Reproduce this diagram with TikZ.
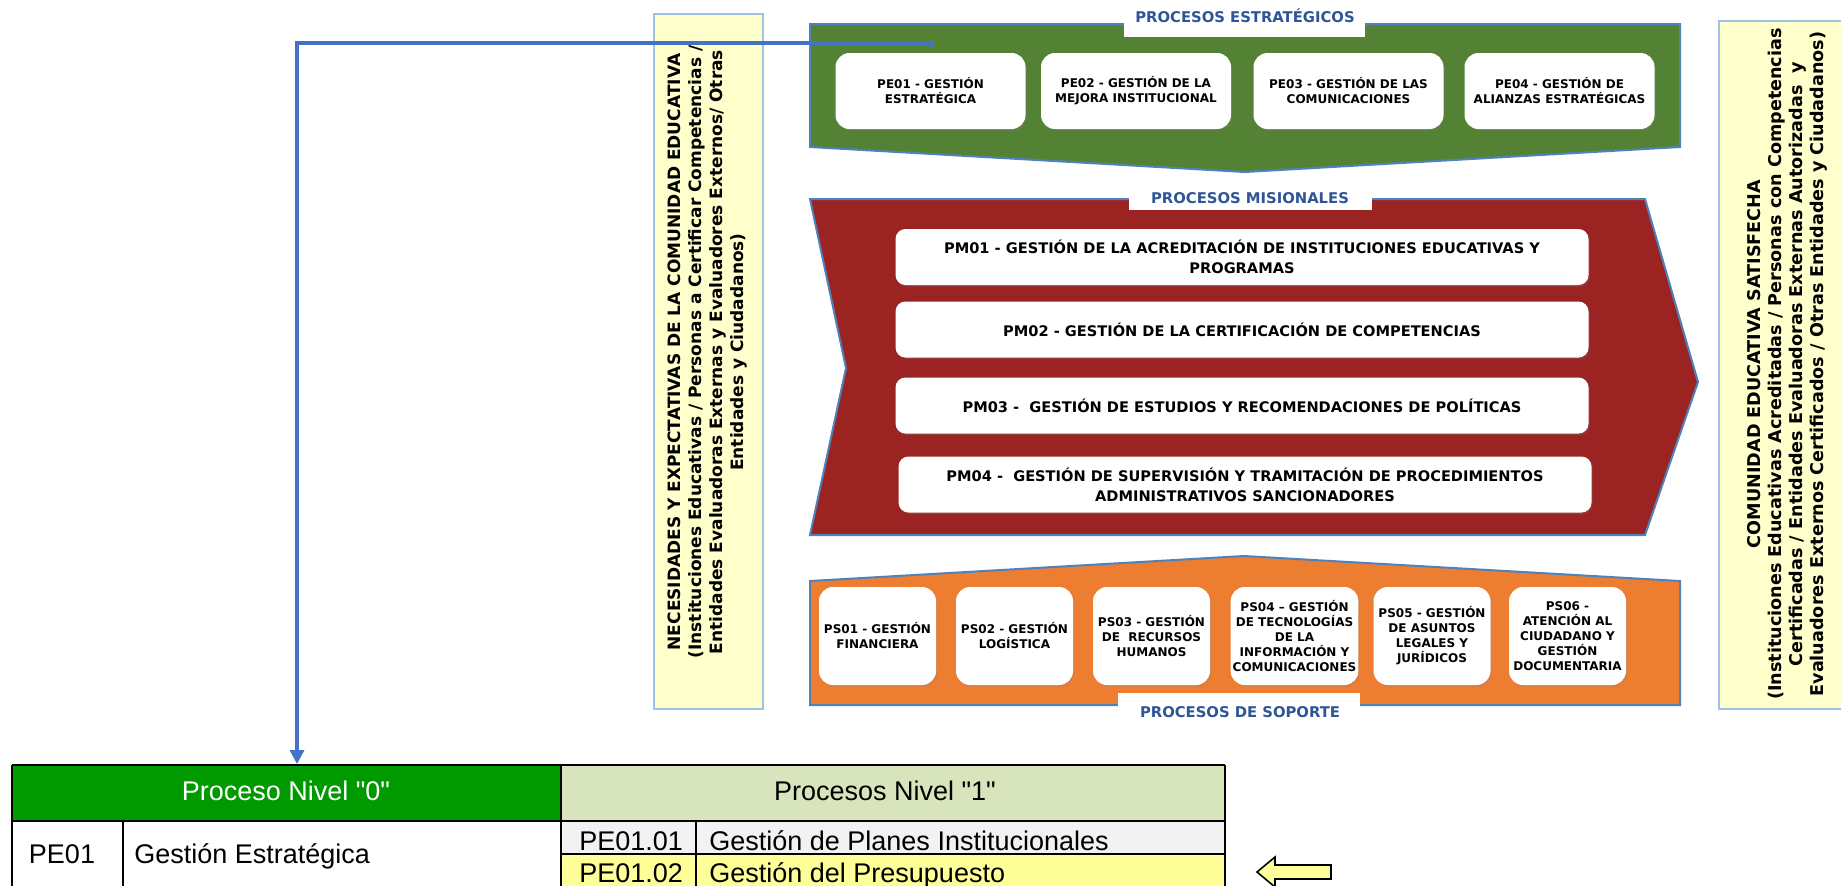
\documentclass[tikz,border=0pt]{standalone}
\usepackage{fontspec}
\setmainfont{DejaVu Sans}
\newfontfamily\tablefont{Liberation Sans}
\usetikzlibrary{arrows.meta,shadows}

\definecolor{estgreen}{RGB}{84,130,53}
\definecolor{misred}{RGB}{155,36,35}
\definecolor{suporange}{RGB}{237,125,49}
\definecolor{edgeblue}{RGB}{79,129,189}
\definecolor{titleblue}{RGB}{47,85,151}
\definecolor{notepale}{RGB}{255,255,204}
\definecolor{noteedge}{RGB}{157,195,230}
\definecolor{hdrgreen}{RGB}{0,153,0}
\definecolor{hdrpale}{RGB}{216,228,188}
\definecolor{rowgray}{RGB}{242,242,242}
\definecolor{rowyellow}{RGB}{255,255,153}
\definecolor{linkblue}{RGB}{68,114,196}

\begin{document}
\begin{tikzpicture}[x=0.5pt,y=0.5pt,yscale=-1,
    band/.style={draw=edgeblue,line width=1pt},
    procbox/.style={fill=white,rounded corners=7pt,align=center,inner sep=1pt,
      font=\bfseries\fontsize{6}{7.5}\selectfont,
      drop shadow={shadow xshift=0.6pt,shadow yshift=-0.8pt,opacity=0.25}},
    misbox/.style={procbox,rounded corners=5pt,minimum width=346.5pt,minimum height=28pt,
      font=\bfseries\fontsize{7.3}{10}\selectfont},
    ttl/.style={text=titleblue,font=\bfseries\fontsize{7.4}{9}\selectfont,inner sep=0pt},
    notebox/.style={fill=notepale,draw=noteedge,line width=0.6pt},
    notetext/.style={rotate=90,align=center,inner sep=0pt,font=\bfseries\fontsize{8.5}{10.5}\selectfont},
    celltext/.style={font=\tablefont\fontsize{13.5}{15}\selectfont,inner sep=0pt},
    conn/.style={draw=linkblue,line width=1.6pt,-{Triangle[length=7pt,width=7pt]}}]
  \useasboundingbox (0,0) rectangle (1841,885);
  \clip (0,0) rectangle (1841,885);

  %Shape: Rectangle (side notes)
  \draw[notebox] (654,14) rectangle (763,709);
  \draw[notebox] (1719,21) rectangle (1845,709);
  % Text Node
  \node[notetext] (needs) at (708,352) {NECESIDADES Y EXPECTATIVAS DE LA COMUNIDAD EDUCATIVA\\
    (Instituciones Educativas / Personas a Certificar Competencias /\\
    Entidades Evaluadoras Externas y Evaluadores Externos/ Otras\\
    Entidades y Ciudadanos)};
  % Text Node
  \node[notetext,font=\bfseries\fontsize{8.8}{10.5}\selectfont] (satisf) at (1787,364) {COMUNIDAD EDUCATIVA SATISFECHA\\
    (Instituciones Educativas Acreditadas / Personas con Competencias\\
    Certificadas / Entidades Evaluadoras Externas Autorizadas~ y\\
    Evaluadores Externos Certificados / Otras Entidades y Ciudadanos)};

  %Shape: Polygon (estrategicos)
  \draw[band,fill=estgreen] (810,24) -- (1680,24) -- (1680,147) -- (1245,172) -- (810,147) -- cycle;
  \fill[white] (1124,16) rectangle (1365,37);
  \node[ttl] (ttlest) at (1245,16) {PROCESOS ESTRATÉGICOS};
  \node[procbox,minimum width=95pt,minimum height=38pt] (pe01) at (930.5,91) {PE01 - GESTIÓN\\ESTRATÉGICA};
  \node[procbox,minimum width=95pt,minimum height=38pt] (pe02) at (1136,91) {PE02 - GESTIÓN DE LA\\MEJORA INSTITUCIONAL};
  \node[procbox,minimum width=95pt,minimum height=38pt] (pe03) at (1348.5,91) {PE03 - GESTIÓN DE LAS\\COMUNICACIONES};
  \node[procbox,minimum width=95pt,minimum height=38pt] (pe04) at (1559.5,91) {PE04 - GESTIÓN DE\\ALIANZAS ESTRATÉGICAS};

  %Shape: Polygon (misionales)
  \draw[band,fill=misred] (810,199) -- (1645,199) -- (1698,382) -- (1645,535) -- (810,535) -- (846,368) -- cycle;
  \fill[white] (1129,188) rectangle (1372,210);
  \node[ttl] (ttlmis) at (1250,198) {PROCESOS MISIONALES};
  \node[misbox] (pm01) at (1242,257) {PM01 - GESTIÓN DE LA ACREDITACIÓN DE INSTITUCIONES EDUCATIVAS Y\\PROGRAMAS};
  \node[misbox] (pm02) at (1242,329.5) {PM02 - GESTIÓN DE LA CERTIFICACIÓN DE COMPETENCIAS};
  \node[misbox] (pm03) at (1242,405.5) {PM03 -~ GESTIÓN DE ESTUDIOS Y RECOMENDACIONES DE POLÍTICAS};
  \node[misbox] (pm04) at (1245,484.5) {PM04 -~ GESTIÓN DE SUPERVISIÓN Y TRAMITACIÓN DE PROCEDIMIENTOS\\ADMINISTRATIVOS SANCIONADORES};

  %Shape: Polygon (soporte)
  \draw[band,fill=suporange] (810,581) -- (1244,556) -- (1680,581) -- (1680,705) -- (810,705) -- cycle;
  \fill[white] (1118,693) rectangle (1360,722);
  \node[ttl] (ttlsop) at (1240,712) {PROCESOS DE SOPORTE};
  \node[procbox,minimum width=58.5pt,minimum height=49pt] (ps01) at (877.5,636) {PS01 - GESTIÓN\\FINANCIERA};
  \node[procbox,minimum width=58.5pt,minimum height=49pt] (ps02) at (1014.5,636) {PS02 - GESTIÓN\\LOGÍSTICA};
  \node[procbox,minimum width=58.5pt,minimum height=49pt] (ps03) at (1151.5,636) {PS03 - GESTIÓN\\DE~ RECURSOS\\HUMANOS};
  \node[procbox,minimum width=63.5pt,minimum height=49pt] (ps04) at (1294.5,636) {PS04 – GESTIÓN\\DE TECNOLOGÍAS\\DE LA\\INFORMACIÓN Y\\COMUNICACIONES};
  \node[procbox,minimum width=58.5pt,minimum height=49pt] (ps05) at (1432,636) {PS05 - GESTIÓN\\DE ASUNTOS\\LEGALES Y\\JURÍDICOS};
  \node[procbox,minimum width=58.5pt,minimum height=49pt] (ps06) at (1567.5,636) {PS06 -\\ATENCIÓN AL\\CIUDADANO Y\\GESTIÓN\\DOCUMENTARIA};

  %Shape: Table
  \fill[hdrgreen] (12,765) rectangle (561,821);
  \fill[hdrpale] (561,765) rectangle (1225,821);
  \fill[rowgray] (561,821) rectangle (1225,854);
  \fill[rowyellow] (561,854) rectangle (1225,892);
  \draw[line width=1pt] (12,765) -- (1225,765) (12,821) -- (1225,821) (561,854) -- (1225,854);
  \draw[line width=1.1pt] (12,765) -- (12,892) (561,765) -- (561,892) (1225,765) -- (1225,892)
    (123,821) -- (123,892) (696,821) -- (696,892);
  % Text Node
  \node[celltext,anchor=base,text=white] (lvlzero) at (286,800) {Proceso Nivel "0"};
  \node[celltext,anchor=base] (lvlone) at (885,800) {Procesos Nivel "1"};
  \node[celltext,anchor=base] (pecode) at (62,863) {PE01};
  \node[celltext,anchor=base west] (pename) at (134,863) {Gestión Estratégica};
  \node[celltext,anchor=base west] (subcodea) at (579,850) {PE01.01};
  \node[celltext,anchor=base west] (subnamea) at (709,850) {Gestión de Planes Institucionales};
  \node[celltext,anchor=base west] (subcodeb) at (579,882) {PE01.02};
  \node[celltext,anchor=base west] (subnameb) at (709,882) {Gestión del Presupuesto};

  %Shape: Left Arrow
  \draw[fill=rowyellow,line width=0.8pt,line join=miter] (1257,872) -- (1275,857) -- (1275,865) -- (1331,865)
    -- (1331,879) -- (1275,879) -- (1275,887) -- cycle;

  %Straight Lines
  \coordinate (linkstart) at (932,47);
  \coordinate (linkend) at (297,764);
  \draw[conn] (linkstart) -- ++(0,-4) -| (linkend);

\end{tikzpicture}
\end{document}
